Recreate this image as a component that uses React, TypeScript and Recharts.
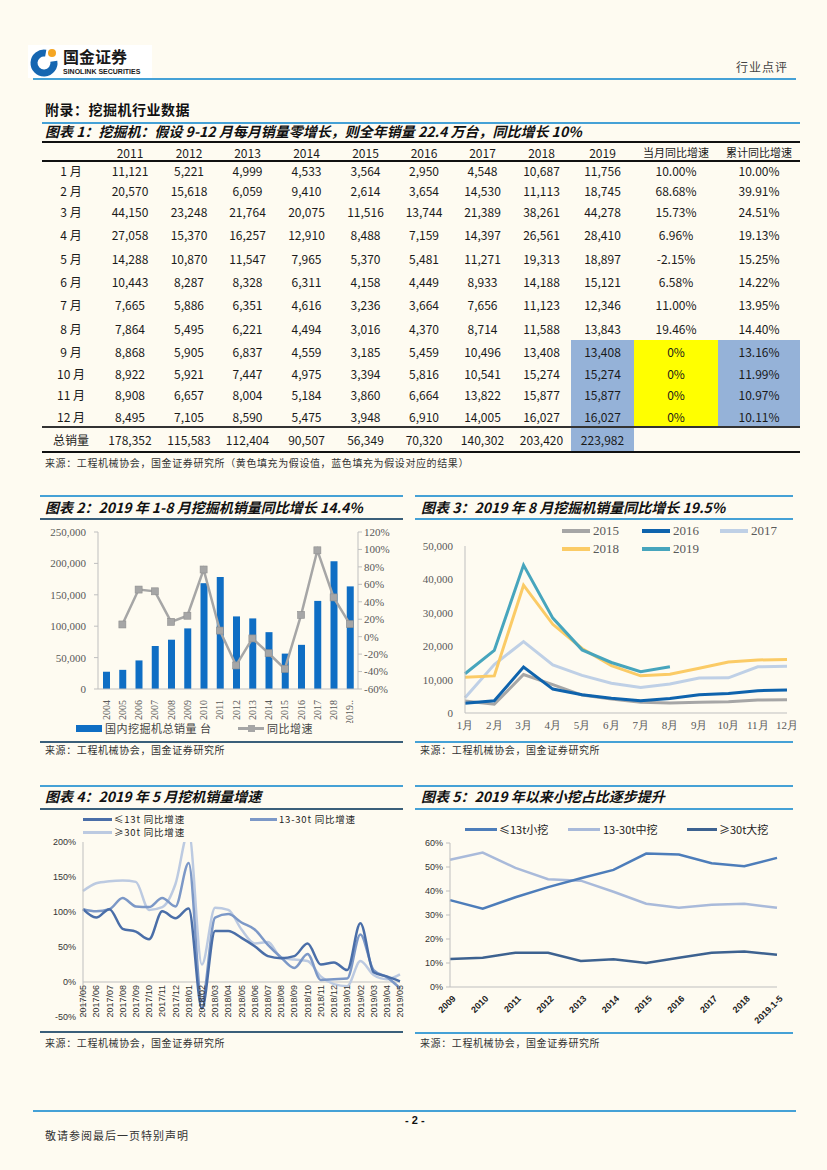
import React from 'react';
import { ComposedChart, LineChart, Bar, Line, XAxis, YAxis, ReferenceLine } from 'recharts';

// ---------- table 1 (monthly excavator sales, units) ----------
const tableYears = ['2011', '2012', '2013', '2014', '2015', '2016', '2017', '2018', '2019'];
const tableRowLabels = ['1 月', '2 月', '3 月', '4 月', '5 月', '6 月', '7 月', '8 月', '9 月', '10 月', '11 月', '12 月'];
const sales2011 = [11121, 20570, 44150, 27058, 14288, 10443, 7665, 7864, 8868, 8922, 8908, 8495];
const sales2012 = [5221, 15618, 23248, 15370, 10870, 8287, 5886, 5495, 5905, 5921, 6657, 7105];
const sales2013 = [4999, 6059, 21764, 16257, 11547, 8328, 6351, 6221, 6837, 7447, 8004, 8590];
const sales2014 = [4533, 9410, 20075, 12910, 7965, 6311, 4616, 4494, 4559, 4975, 5184, 5475];
const sales2015 = [3564, 2614, 11516, 8488, 5370, 4158, 3236, 3016, 3185, 3394, 3860, 3948];
const sales2016 = [2950, 3654, 13744, 7159, 5481, 4449, 3664, 4370, 5459, 5816, 6664, 6910];
const sales2017 = [4548, 14530, 21389, 14397, 11271, 8933, 7656, 8714, 10496, 10541, 13822, 14005];
const sales2018 = [10687, 11113, 38261, 26561, 19313, 14188, 11123, 11588, 13408, 15274, 15877, 16027];
const sales2019 = [11756, 18745, 44278, 28410, 18897, 15121, 12346, 13843, 13408, 15274, 15877, 16027];
const monthYoY = ['10.00%', '68.68%', '15.73%', '6.96%', '-2.15%', '6.58%', '11.00%', '19.46%', '0%', '0%', '0%', '0%'];
const cumYoY = ['10.00%', '39.91%', '24.51%', '19.13%', '15.25%', '14.22%', '13.95%', '14.40%', '13.16%', '11.99%', '10.97%', '10.11%'];
const yearTotals = [178352, 115583, 112404, 90507, 56349, 70320, 140302, 203420, 223982];

// ---------- chart 2 ----------
const chart2Years = ['2004', '2005', '2006', '2007', '2008', '2009', '2010', '2011', '2012', '2013', '2014', '2015', '2016', '2017', '2018', '2019..'];
const domesticSales = [27500, 30500, 45500, 68500, 78500, 96500, 168500, 178352, 115583, 112404, 90507, 56349, 70320, 140302, 203420, 163396];
const yoyGrowth = [null, 14, 54, 52, 17, 24, 77, 7, -33, -2, -19, -37, 25, 99, 45, 14.4];

// ---------- chart 3 ----------
const chart3Months = ['1月', '2月', '3月', '4月', '5月', '6月', '7月', '8月', '9月', '10月', '11月', '12月'];

// ---------- chart 4 (yoy growth by tonnage, %) ----------
const chart4Months = ['2017/05', '2017/06', '2017/07', '2017/08', '2017/09', '2017/10', '2017/11', '2017/12', '2018/01', '2018/02', '2018/03', '2018/04', '2018/05', '2018/06', '2018/07', '2018/08', '2018/09', '2018/10', '2018/11', '2018/12', '2019/01', '2019/02', '2019/03', '2019/04', '2019/05'];
const smallYoY = [104, 92, 104, 76, 72, 61, 101, 91, 105, -38, 73, 73, 63, 51, 37, 34, 37, 55, 25, 28, 17, 84, 14, 8, 1];
const midYoY = [104, 101, 104, 120, 108, 107, 120, 108, 170, -28, 92, 97, 85, 75, 53, 35, 20, 40, 3, 4, 5, 68, 17, 7, -9];
const largeYoY = [130, 141, 144, 145, 143, 103, 107, 140, 215, 25, 106, 103, 75, 55, 57, 35, 32, 30, 8, -3, -6, 30, 10, 4, 11];

// ---------- chart 5 (share by tonnage, %) ----------
const chart5Years = ['2009', '2010', '2011', '2012', '2013', '2014', '2015', '2016', '2017', '2018', '2019.1-5'];
const smallShare = [36.2, 32.6, 37.4, 41.6, 45.3, 48.8, 55.6, 55.2, 51.6, 50.3, 53.8];
const midShare = [53.0, 56.0, 49.6, 44.9, 44.3, 39.7, 34.7, 33.0, 34.3, 34.7, 33.0];
const largeShare = [11.7, 12.2, 14.3, 14.3, 10.8, 11.6, 10.0, 12.2, 14.3, 14.8, 13.4];

const BG = '#fefbf1';
const RULE = '#45a1d6';
const CJK = '"Noto Sans CJK SC", "Noto Sans", sans-serif';
const SERIF = '"Liberation Serif", "DejaVu Serif", serif';
const SANS = '"Liberation Sans", Arial, sans-serif';
const AXIS = '#bfbfbf';

const fmt = (n: number) => n.toLocaleString('en-US');

const chart2Data = chart2Years.map((year, i) => ({ year, sales: domesticSales[i], yoy: yoyGrowth[i] }));
const chart3Data = chart3Months.map((month, i) => ({
  month,
  y2015: sales2015[i],
  y2016: sales2016[i],
  y2017: sales2017[i],
  y2018: sales2018[i],
  y2019: i < 8 ? sales2019[i] : null,
}));
const chart4Data = chart4Months.map((m, i) => ({ m, small: smallYoY[i], mid: midYoY[i], large: largeYoY[i] }));
const chart5Data = chart5Years.map((year, i) => ({ year, small: smallShare[i], mid: midShare[i], large: largeShare[i] }));

const Txt = ({ x, y, size, children, style }: any) => (
  <div
    style={{
      position: 'absolute',
      left: x,
      top: y - size * 0.55,
      fontSize: size,
      lineHeight: `${size * 1.1}px`,
      whiteSpace: 'nowrap',
      ...style,
    }}
  >
    {children}
  </div>
);

const Rule = ({ x1, x2, y, color = RULE, w = 1.5 }: any) => (
  <div style={{ position: 'absolute', left: x1, top: y - w / 2, width: x2 - x1, height: w, background: color }} />
);

const LegendLine = ({ x, y, w, color, thick = 3 }: any) => (
  <div style={{ position: 'absolute', left: x, top: y - thick / 2, width: w, height: thick, background: color }} />
);

const titleStyle = { fontWeight: 700, fontStyle: 'italic', color: '#111', fontFamily: CJK };
const srcStyle = { color: '#333', letterSpacing: 0.6, fontFamily: CJK };

// ---------- table ----------
const colEdges = [42, 100, 160, 218, 277, 336, 395, 453, 512, 571, 634, 718, 800];
const rowEdges = [161, 180, 201, 222, 246, 270, 293, 316, 340, 363, 384, 405, 427];
const FILL_BLUE = '#95b2d8';
const FILL_YELLOW = '#ffff00';

function Cell({ c, top, h, text, bg, size = 12 }: any) {
  return (
    <div
      style={{
        position: 'absolute',
        left: colEdges[c],
        width: colEdges[c + 1] - colEdges[c],
        top,
        height: h,
        background: bg,
        display: 'flex',
        alignItems: 'center',
        justifyContent: 'center',
        fontSize: size,
        color: '#1a1a1a',
        whiteSpace: 'nowrap',
      }}
    >
      {text}
    </div>
  );
}

function Table1() {
  const yearly = [sales2011, sales2012, sales2013, sales2014, sales2015, sales2016, sales2017, sales2018, sales2019];
  const cells: any[] = [];
  tableYears.forEach((y, j) => cells.push(<Cell key={`h${j}`} c={j + 1} top={143} h={18} text={y} />));
  cells.push(<Cell key="hm" c={10} top={143} h={18} text="当月同比增速" size={11} />);
  cells.push(<Cell key="hc" c={11} top={143} h={18} text="累计同比增速" size={11} />);
  tableRowLabels.forEach((label, i) => {
    const top = rowEdges[i];
    const h = rowEdges[i + 1] - rowEdges[i];
    const assumed = i >= 8;
    cells.push(<Cell key={`l${i}`} c={0} top={top} h={h} text={label} />);
    yearly.forEach((arr, j) => {
      cells.push(
        <Cell key={`v${i}-${j}`} c={j + 1} top={top} h={h} text={fmt(arr[i])} bg={assumed && j === 8 ? FILL_BLUE : undefined} />
      );
    });
    cells.push(<Cell key={`m${i}`} c={10} top={top} h={h} text={monthYoY[i]} bg={assumed ? FILL_YELLOW : undefined} />);
    cells.push(<Cell key={`c${i}`} c={11} top={top} h={h} text={cumYoY[i]} bg={assumed ? FILL_BLUE : undefined} />);
  });
  cells.push(<Cell key="tl" c={0} top={427} h={25} text="总销量" />);
  yearTotals.forEach((t, j) =>
    cells.push(<Cell key={`t${j}`} c={j + 1} top={427} h={25} text={fmt(t)} bg={j === 8 ? FILL_BLUE : undefined} />)
  );
  return (
    <>
      {cells}
      <Rule x1={42} x2={800} y={142} color="#111" w={2} />
      <Rule x1={42} x2={800} y={161} color="#111" w={1.2} />
      <Rule x1={42} x2={800} y={427} color="#333" w={1.2} />
      <Rule x1={42} x2={800} y={452} color="#111" w={2} />
    </>
  );
}

// ---------- custom ticks / dots ----------
const VerticalTick = (props: any) => {
  const { x, y, payload } = props;
  return (
    <g transform={`translate(${x},${y + 3})`}>
      <text transform="rotate(-90)" textAnchor="end" dy="0.35em" fontFamily={SERIF} fontSize={10} fill="#595959">
        {payload.value}
      </text>
    </g>
  );
};

const PLOT4_H = 175;
const ZERO_OFFSET = (PLOT4_H * 50) / 250;
const ZeroTick = (props: any) => {
  const { x, y, payload } = props;
  return (
    <g transform={`translate(${x},${y - ZERO_OFFSET + 3})`}>
      <text transform="rotate(-90)" textAnchor="end" dy="0.35em" fontFamily={SANS} fontSize={9} fill="#333">
        {payload.value}
      </text>
    </g>
  );
};

const SlantTick = (props: any) => {
  const { x, y, payload } = props;
  return (
    <g transform={`translate(${x + 4},${y + 2})`}>
      <text transform="rotate(-45)" textAnchor="end" dy="0.35em" fontFamily={SANS} fontSize={9} fontWeight={700} fill="#222">
        {payload.value}
      </text>
    </g>
  );
};

const SquareDot = (props: any) => {
  const { cx, cy, value } = props;
  if (value == null || cx == null || cy == null) return <g />;
  return <rect x={cx - 3.5} y={cy - 3.5} width={7} height={7} fill="#a6a6a6" stroke="#8f8f8f" strokeWidth={0.6} />;
};

function Chart2() {
  return (
    <div style={{ position: 'absolute', left: 40, top: 524 }}>
      <ComposedChart width={360} height={199} data={chart2Data} margin={{ top: 8, right: 0, bottom: 0, left: 0 }}>
        <XAxis dataKey="year" interval={0} height={34} tick={<VerticalTick />} axisLine={{ stroke: AXIS }} tickLine={false} />
        <YAxis
          yAxisId="left"
          domain={[0, 250000]}
          ticks={[0, 50000, 100000, 150000, 200000, 250000]}
          width={58}
          tickFormatter={(v: number) => fmt(v)}
          tick={{ fontFamily: SERIF, fontSize: 11, fill: '#595959' }}
          axisLine={{ stroke: AXIS }}
          tickLine={{ stroke: AXIS }}
          tickSize={4}
          tickMargin={8}
        />
        <YAxis
          yAxisId="right"
          orientation="right"
          domain={[-60, 120]}
          ticks={[-60, -40, -20, 0, 20, 40, 60, 80, 100, 120]}
          width={42}
          tickFormatter={(v: number) => `${v}%`}
          tick={{ fontFamily: SERIF, fontSize: 11, fill: '#595959' }}
          axisLine={{ stroke: AXIS }}
          tickLine={{ stroke: AXIS }}
          tickSize={4}
          tickMargin={2}
        />
        <Bar yAxisId="left" dataKey="sales" fill="#0f6ec4" barSize={7} isAnimationActive={false} />
        <Line
          yAxisId="right"
          dataKey="yoy"
          stroke="#a6a6a6"
          strokeWidth={2.5}
          dot={<SquareDot />}
          activeDot={false}
          isAnimationActive={false}
        />
      </ComposedChart>
    </div>
  );
}

const c3Colors = { y2015: '#a6a6a6', y2016: '#0e63ad', y2017: '#bfd0e6', y2018: '#fbcb66', y2019: '#47a5bd' };

function Chart3() {
  return (
    <div style={{ position: 'absolute', left: 415, top: 538 }}>
      <LineChart width={382} height={200} data={chart3Data} margin={{ top: 8, right: 10, bottom: 0, left: 0 }}>
        <XAxis
          dataKey="month"
          interval={0}
          height={25}
          tick={{ fontFamily: SERIF, fontSize: 11, fill: '#595959' }}
          axisLine={{ stroke: AXIS }}
          tickLine={false}
        />
        <YAxis
          domain={[0, 50000]}
          ticks={[0, 10000, 20000, 30000, 40000, 50000]}
          width={50}
          tickFormatter={(v: number) => fmt(v)}
          tick={{ fontFamily: SERIF, fontSize: 11, fill: '#595959' }}
          axisLine={{ stroke: AXIS }}
          tickLine={false}
          tickMargin={6}
        />
        {(['y2015', 'y2016', 'y2017', 'y2018', 'y2019'] as const).map((k) => (
          <Line
            key={k}
            dataKey={k}
            type="linear"
            stroke={c3Colors[k]}
            strokeWidth={3}
            dot={false}
            activeDot={false}
            isAnimationActive={false}
          />
        ))}
      </LineChart>
    </div>
  );
}

const c4Colors = { small: '#4a6ea8', mid: '#7c98c7', large: '#bccae1' };

function Chart4() {
  return (
    <div style={{ position: 'absolute', left: 40, top: 834 }}>
      <LineChart width={370} height={188} data={chart4Data} margin={{ top: 8, right: 10, bottom: 0, left: 0 }}>
        <XAxis dataKey="m" interval={0} height={5} tick={<ZeroTick />} axisLine={false} tickLine={false} tickSize={0} tickMargin={0} />
        <YAxis
          domain={[-50, 200]}
          ticks={[-50, 0, 50, 100, 150, 200]}
          allowDataOverflow
          width={43}
          tickFormatter={(v: number) => `${v}%`}
          tick={{ fontFamily: SANS, fontSize: 9, fill: '#333' }}
          axisLine={{ stroke: AXIS }}
          tickLine={false}
          tickSize={4}
          tickMargin={3}
        />
        <ReferenceLine y={0} stroke={AXIS} />
        {(['large', 'mid', 'small'] as const).map((k) => (
          <Line
            key={k}
            dataKey={k}
            type="monotone"
            stroke={c4Colors[k]}
            strokeWidth={2.5}
            dot={false}
            activeDot={false}
            isAnimationActive={false}
          />
        ))}
      </LineChart>
    </div>
  );
}

const c5Colors = { small: '#4d7dba', mid: '#a9bada', large: '#3d6290' };

function Chart5() {
  return (
    <div style={{ position: 'absolute', left: 415, top: 835 }}>
      <LineChart width={372} height={197} data={chart5Data} margin={{ top: 8, right: 10, bottom: 0, left: 0 }}>
        <XAxis dataKey="year" interval={0} height={45} tick={<SlantTick />} axisLine={{ stroke: AXIS }} tickLine={false} />
        <YAxis
          domain={[0, 60]}
          ticks={[0, 10, 20, 30, 40, 50, 60]}
          width={35}
          tickFormatter={(v: number) => `${v}%`}
          tick={{ fontFamily: SANS, fontSize: 9, fill: '#333' }}
          axisLine={{ stroke: AXIS }}
          tickLine={{ stroke: AXIS }}
          tickSize={4}
          tickMargin={3}
        />
        {(['mid', 'large', 'small'] as const).map((k) => (
          <Line
            key={k}
            dataKey={k}
            type="linear"
            stroke={c5Colors[k]}
            strokeWidth={2.5}
            dot={false}
            activeDot={false}
            isAnimationActive={false}
          />
        ))}
      </LineChart>
    </div>
  );
}

function Logo() {
  return (
    <>
      <div style={{ position: 'absolute', left: 28, top: 45, width: 124, height: 33, background: '#fff' }} />
      <svg style={{ position: 'absolute', left: 0, top: 0 }} width={70} height={90}>
        <path d="M 53.85 61.26 A 10 10 0 1 1 45.74 53.15" fill="none" stroke="#1566b1" strokeWidth={7} />
        <circle cx={52} cy={53} r={4} fill="#f5a623" />
      </svg>
      <Txt x={63} y={57} size={16} style={{ fontWeight: 700, color: '#1a1a1a', fontFamily: CJK, lineHeight: '16px' }}>
        国金证券
      </Txt>
      <Txt x={63} y={71.5} size={7} style={{ fontWeight: 700, color: '#1a1a1a', fontFamily: SANS, lineHeight: '7px' }}>
        SINOLINK SECURITIES
      </Txt>
    </>
  );
}

const c4Legend = { color: '#222', letterSpacing: 0.8, lineHeight: '10px' };

export default function App() {
  return (
    <div
      style={{
        position: 'absolute',
        left: 0,
        top: 0,
        width: 827,
        height: 1170,
        background: BG,
        fontFamily: CJK,
        overflow: 'hidden',
      }}
    >
      <Logo />
      <Txt x={736} y={67} size={12} style={{ color: '#444', letterSpacing: 1 }}>
        行业点评
      </Txt>
      <Rule x1={33} x2={796} y={79} w={2} />

      <Txt x={45} y={110} size={14} style={{ fontWeight: 700, color: '#111', letterSpacing: 0.5 }}>
        附录：挖掘机行业数据
      </Txt>
      <Rule x1={42} x2={800} y={123} w={2} />
      <Txt x={45} y={132} size={14} style={titleStyle}>
        图表 1：挖掘机：假设 9-12 月每月销量零增长，则全年销量 22.4 万台，同比增长 10%
      </Txt>
      <Table1 />
      <Txt x={45} y={462} size={10} style={srcStyle}>
        来源：工程机械协会，国金证券研究所（黄色填充为假设值，蓝色填充为假设对应的结果）
      </Txt>

      {/* chart 2 */}
      <Rule x1={40} x2={403} y={496} />
      <Txt x={45} y={508} size={14} style={titleStyle}>
        图表 2：2019 年 1-8 月挖掘机销量同比增长 14.4%
      </Txt>
      <Rule x1={40} x2={403} y={519} color="#3a5f7a" w={1.2} />
      <Chart2 />
      <div style={{ position: 'absolute', left: 76, top: 725, width: 26, height: 7, background: '#0f6ec4' }} />
      <Txt x={105} y={728.5} size={11} style={{ color: '#444', letterSpacing: 0.5 }}>
        国内挖掘机总销量 台
      </Txt>
      <LegendLine x={238} y={728.5} w={26} color="#a6a6a6" thick={2.5} />
      <div style={{ position: 'absolute', left: 247.5, top: 725, width: 7, height: 7, background: '#a6a6a6' }} />
      <Txt x={267} y={728.5} size={11} style={{ color: '#444', letterSpacing: 0.5 }}>
        同比增速
      </Txt>
      <Rule x1={40} x2={403} y={742} color="#3a5f7a" w={1.2} />
      <Txt x={45} y={749} size={10} style={srcStyle}>
        来源：工程机械协会，国金证券研究所
      </Txt>

      {/* chart 3 */}
      <Rule x1={415} x2={793} y={496} />
      <Txt x={421} y={508} size={14} style={titleStyle}>
        图表 3：2019 年 8 月挖掘机销量同比增长 19.5%
      </Txt>
      <Rule x1={415} x2={793} y={519} />
      <Chart3 />
      {[
        { k: 'y2015', label: '2015', x: 562, y: 531 },
        { k: 'y2016', label: '2016', x: 642, y: 531 },
        { k: 'y2017', label: '2017', x: 720, y: 531 },
        { k: 'y2018', label: '2018', x: 562, y: 549 },
        { k: 'y2019', label: '2019', x: 642, y: 549 },
      ].map((it) => (
        <React.Fragment key={it.k}>
          <LegendLine x={it.x} y={it.y} w={28} color={(c3Colors as any)[it.k]} thick={4} />
          <Txt x={it.x + 31} y={it.y} size={13} style={{ fontFamily: SERIF, color: '#595959' }}>
            {it.label}
          </Txt>
        </React.Fragment>
      ))}
      <Rule x1={415} x2={793} y={742} />
      <Txt x={420} y={749} size={10} style={srcStyle}>
        来源：工程机械协会，国金证券研究所
      </Txt>

      {/* chart 4 */}
      <Rule x1={40} x2={403} y={786} />
      <Txt x={45} y={797} size={14} style={titleStyle}>
        图表 4：2019 年 5 月挖机销量增速
      </Txt>
      <Rule x1={40} x2={403} y={809} color="#3a5f7a" w={1.2} />
      <Chart4 />
      <LegendLine x={83} y={819.5} w={29} color={c4Colors.small} />
      <Txt x={114} y={819.5} size={9.5} style={c4Legend}>
        ≤13t 同比增速
      </Txt>
      <LegendLine x={250} y={819.5} w={27} color={c4Colors.mid} />
      <Txt x={279} y={819.5} size={9.5} style={c4Legend}>
        13-30t 同比增速
      </Txt>
      <LegendLine x={83} y={832.5} w={29} color={c4Colors.large} />
      <Txt x={114} y={832.5} size={9.5} style={c4Legend}>
        ≥30t 同比增速
      </Txt>
      <Rule x1={40} x2={403} y={1032} color="#3a5f7a" w={1.2} />
      <Txt x={45} y={1042} size={10} style={srcStyle}>
        来源：工程机械协会，国金证券研究所
      </Txt>

      {/* chart 5 */}
      <Rule x1={415} x2={793} y={786} />
      <Txt x={421} y={797} size={14} style={titleStyle}>
        图表 5：2019 年以来小挖占比逐步提升
      </Txt>
      <Rule x1={415} x2={793} y={809} />
      <Chart5 />
      <LegendLine x={465} y={829} w={32} color={c5Colors.small} />
      <Txt x={499} y={829} size={11} style={{ color: '#222' }}>
        ≤13t小挖
      </Txt>
      <LegendLine x={568} y={829} w={32} color={c5Colors.mid} />
      <Txt x={603} y={829} size={11} style={{ color: '#222' }}>
        13-30t中挖
      </Txt>
      <LegendLine x={687} y={829} w={30} color={c5Colors.large} />
      <Txt x={719} y={829} size={11} style={{ color: '#222' }}>
        ≥30t大挖
      </Txt>
      <Rule x1={415} x2={793} y={1033} />
      <Txt x={420} y={1042} size={10} style={srcStyle}>
        来源：工程机械协会，国金证券研究所
      </Txt>

      {/* footer */}
      <Rule x1={33} x2={796} y={1111} w={2} />
      <Txt x={405} y={1120} size={11} style={{ fontWeight: 700, color: '#111', fontFamily: SANS }}>
        - 2 -
      </Txt>
      <Txt x={45} y={1135} size={11} style={{ color: '#333', letterSpacing: 1 }}>
        敬请参阅最后一页特别声明
      </Txt>
    </div>
  );
}
